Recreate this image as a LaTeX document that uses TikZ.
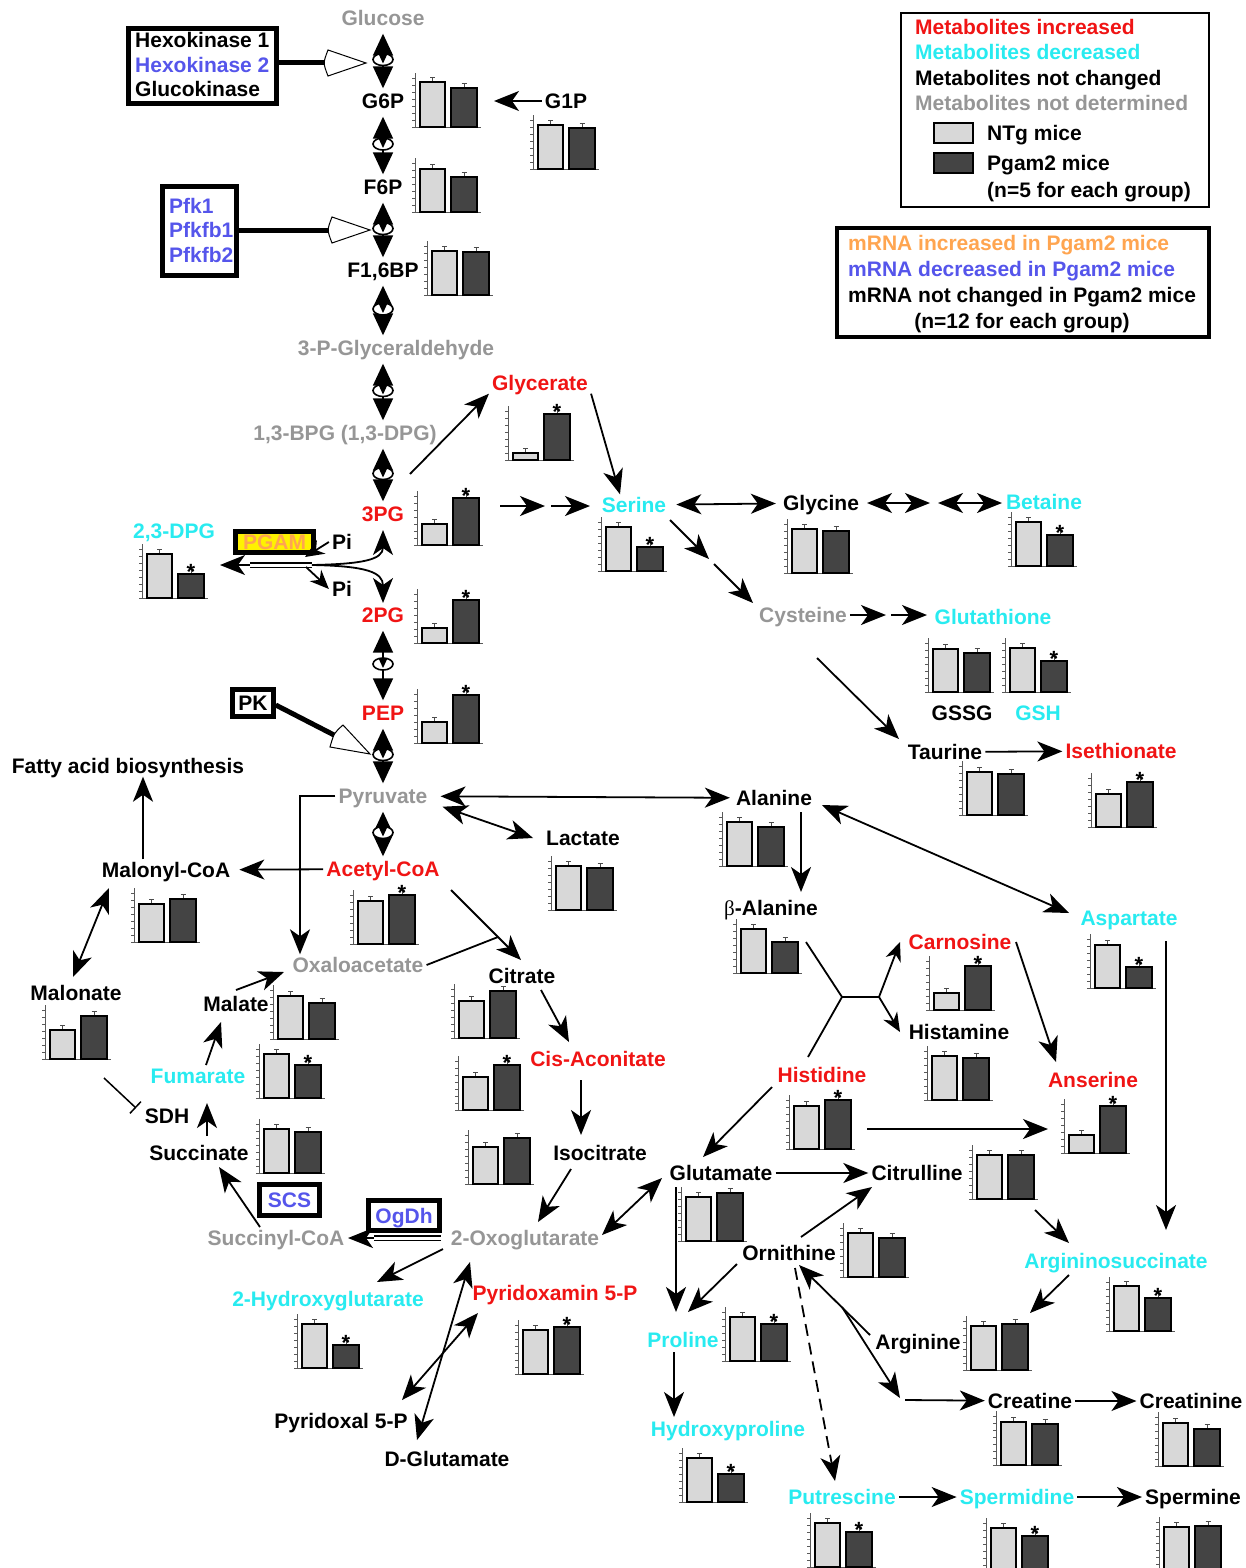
\documentclass[tikz,border=0pt]{standalone}
\usepackage{fontspec}
\setmainfont{Liberation Sans}
\newfontfamily\greekserif{Liberation Serif}
\usetikzlibrary{arrows.meta,shapes.geometric,calc}
\definecolor{mred}{RGB}{240,20,20}
\definecolor{mcyan}{RGB}{40,235,240}
\definecolor{mgray}{RGB}{150,150,150}
\definecolor{mblue}{RGB}{85,85,235}
\definecolor{morange}{RGB}{255,165,80}
\definecolor{barlight}{RGB}{216,216,216}
\definecolor{bardark}{RGB}{68,68,68}
\definecolor{pgamyellow}{RGB}{255,242,0}
\tikzset{
  lbl/.style={font=\fontsize{21}{24}\selectfont\bfseries, text height=15pt, text depth=0pt, inner sep=3pt},
  inc/.style={lbl, text=mred},
  dec/.style={lbl, text=mcyan},
  nch/.style={lbl, text=black},
  nd/.style={lbl, text=mgray},
  starlbl/.style={font=\fontsize{22}{24}\selectfont\bfseries, inner sep=0pt, anchor=base},
  enzbox/.style={lbl, draw, line width=4.5pt, fill=white, inner sep=0pt},
  arr/.style={line width=1.8pt, -{Stealth[length=25pt,width=20pt,inset=7pt]}},
  arrs/.style={line width=1.8pt, -{Stealth[length=19pt,width=16pt,inset=6pt]}},
  darr/.style={line width=1.8pt, {Stealth[length=25pt,width=20pt,inset=7pt]}-{Stealth[length=25pt,width=20pt,inset=7pt]}},
  revarr/.style={line width=1.8pt, {Triangle[length=22pt,width=20pt]}-{Triangle[length=22pt,width=20pt]}, shorten <=5pt, shorten >=2pt},
  revmid/.style={pos=0.5, ellipse, draw, fill=white, line width=1.6pt, minimum width=20pt, minimum height=12pt, inner sep=0pt,
     path picture={\draw[line width=1.6pt] (path picture bounding box.north) -- (path picture bounding box.south);}},
  inh/.style={line width=1.5pt, -{Bar[width=16pt]}},
  plain/.style={line width=1.8pt},
  axisln/.style={line width=0.5pt, black!65},
  barln/.style={line width=1.6pt, draw=black},
  errln/.style={line width=0.6pt, black!70},
  enzline/.style={line width=5pt},
  opentri/.style={line width=1pt, fill=white, draw=black},
}
% chart: name, axis x, baseline y, light height, dark height, star
\newcommand\chart[6]{%
  \begin{scope}[shift={(#2,#3)}]
    \draw[axisln] (0,0) -- (0,-54);
    \foreach \tk in {0,7,...,49} {\draw[axisln] (-3,-\tk) -- (0,-\tk);}
    \draw[axisln] (0,0) -- (66,0);
    \draw[errln] (17.5,-#4) -- (17.5,-#4-5) (15,-#4-5) -- (20,-#4-5);
    \draw[errln] (49,-#5) -- (49,-#5-5) (46.5,-#5-5) -- (51.5,-#5-5);
    \draw[barln, fill=barlight] (5,0) rectangle (30,-#4);
    \draw[barln, fill=bardark] (36,0) rectangle (62,-#5);
    \ifnum#6=1 \node[starlbl] (#1star) at (49,-#5+5) {*};\fi
  \end{scope}}
\begin{document}
\begin{tikzpicture}[x=1pt,y=-1pt]
\useasboundingbox (0,0) rectangle (1246,1568);
\fill[white] (0,0) rectangle (1246,1568);

% ---------------- labels ----------------
\node[nd] (glucose) at (383,18) {Glucose};
\node[nch] (g6p) at (383,101) {G6P};
\node[nch] (g1p) at (566,101) {G1P};
\node[nch] (f6p) at (383,187) {F6P};
\node[nch] (f16bp) at (383,270) {F1,6BP};
\node[nd] (gap) at (396,348) {3-P-Glyceraldehyde};
\node[nd] (bpg) at (345,433) {1,3-BPG (1,3-DPG)};
\node[inc] (pg3) at (383,514) {3PG};
\node[inc] (glycerate) at (540,383) {Glycerate};
\node[dec] (serine) at (634,505) {Serine};
\node[dec] (dpg) at (174,531) {2,3-DPG};
\node[nch] (pia) at (342,542) {Pi};
\node[nch] (pib) at (342,589) {Pi};
\node[inc] (pg2) at (383,615) {2PG};
\node[inc] (pep) at (383,713) {PEP};
\node[nch] (fatty) at (128,766) {Fatty acid biosynthesis};
\node[nd] (pyruvate) at (383,796) {Pyruvate};
\node[nch] (lactate) at (583,838) {Lactate};
\node[nch] (alanine) at (774,798) {Alanine};
\node[nch] (malonyl) at (166,870) {Malonyl-CoA};
\node[inc] (acetyl) at (383,869) {Acetyl-CoA};
\node[nd] (oxalo) at (358,965) {Oxaloacetate};
\node[nch] (citrate) at (522,976) {Citrate};
\node[nch] (malonate) at (76,993) {Malonate};
\node[nch] (malate) at (236,1004) {Malate};
\node[dec] (fumarate) at (198,1076) {Fumarate};
\node[nch] (sdh) at (167,1116) {SDH};
\node[nch] (succinate) at (199,1153) {Succinate};
\node[inc] (cisacon) at (598,1059) {Cis-Aconitate};
\node[nch] (isocitrate) at (600,1153) {Isocitrate};
\node[nd] (succoa) at (276,1238) {Succinyl-CoA};
\node[nd] (oxoglu) at (525,1238) {2-Oxoglutarate};
\node[dec] (hg) at (328,1299) {2-Hydroxyglutarate};
\node[inc] (pyrdxm) at (555,1293) {Pyridoxamin 5-P};
\node[nch] (pyrdxl) at (341,1421) {Pyridoxal 5-P};
\node[nch] (dglu) at (447,1459) {D-Glutamate};
\node[nch] (glycine) at (821,503) {Glycine};
\node[dec] (betaine) at (1044,502) {Betaine};
\node[nd] (cysteine) at (803,615) {Cysteine};
\node[dec] (glutathione) at (993,617) {Glutathione};
\node[nch] (gssg) at (962,713) {GSSG};
\node[dec] (gsh) at (1038,713) {GSH};
\node[nch] (taurine) at (945,752) {Taurine};
\node[inc] (isethionate) at (1121,751) {Isethionate};
\node[nch] (balanine) at (771,908) {{\greekserif\mdseries β}-Alanine};
\node[inc] (carnosine) at (960,942) {Carnosine};
\node[nch] (histamine) at (959,1032) {Histamine};
\node[dec] (aspartate) at (1129,918) {Aspartate};
\node[inc] (anserine) at (1093,1080) {Anserine};
\node[inc] (histidine) at (822,1075) {Histidine};
\node[nch] (glutamate) at (721,1173) {Glutamate};
\node[nch] (citrulline) at (917,1173) {Citrulline};
\node[dec] (argsuc) at (1116,1261) {Argininosuccinate};
\node[nch] (ornithine) at (789,1253) {Ornithine};
\node[dec] (proline) at (683,1340) {Proline};
\node[dec] (hydroxyproline) at (728,1429) {Hydroxyproline};
\node[nch] (arginine) at (918,1342) {Arginine};
\node[nch] (creatine) at (1030,1401) {Creatine};
\node[nch] (creatinine) at (1191,1401) {Creatinine};
\node[dec] (putrescine) at (842,1497) {Putrescine};
\node[dec] (spermidine) at (1017,1497) {Spermidine};
\node[nch] (spermine) at (1193,1497) {Spermine};

% ---------------- charts ----------------
\chart{cg6p}{415}{127}{45}{39}{0}
\chart{cg1p}{533}{169}{44}{41}{0}
\chart{cf6p}{415}{212}{43}{35}{0}
\chart{cf16}{427}{295}{44}{43}{0}
\chart{cglyc}{508}{460}{7}{46}{1}
\chart{cpg3}{417}{545}{21}{47}{1}
\chart{cdpg}{142}{598}{44}{24}{1}
\chart{cpg2}{417}{643}{15}{43}{1}
\chart{cpep}{417}{743}{21}{48}{1}
\chart{cser}{601}{571}{44}{24}{1}
\chart{cgly}{787}{573}{44}{42}{0}
\chart{cbet}{1011}{566}{44}{31}{1}
\chart{cgssg}{928}{692}{43}{39}{0}
\chart{cgsh}{1005}{692}{44}{31}{1}
\chart{ctau}{962}{815}{43}{41}{0}
\chart{cise}{1091}{827}{33}{45}{1}
\chart{cala}{722}{866}{44}{39}{0}
\chart{clac}{551}{910}{44}{42}{0}
\chart{cmcoa}{134}{942}{38}{43}{0}
\chart{cacoa}{353}{944}{43}{49}{1}
\chart{cmalo}{45}{1059}{29}{43}{0}
\chart{cmal}{273}{1039}{43}{36}{0}
\chart{cfum}{259}{1098}{44}{33}{1}
\chart{csuc}{259}{1173}{44}{41}{0}
\chart{ccit}{454}{1038}{37}{47}{0}
\chart{ccis}{458}{1110}{33}{45}{1}
\chart{ciso}{468}{1184}{37}{46}{0}
\chart{chg}{297}{1368}{44}{23}{1}
\chart{cpdxm}{518}{1374}{44}{47}{1}
\chart{cbala}{736}{973}{44}{31}{0}
\chart{ccar}{929}{1010}{17}{44}{1}
\chart{chist}{927}{1100}{44}{42}{0}
\chart{casp}{1090}{988}{43}{21}{1}
\chart{cans}{1064}{1153}{18}{47}{1}
\chart{chis}{789}{1149}{43}{49}{1}
\chart{ccitr}{972}{1199}{44}{44}{0}
\chart{cglu}{681}{1241}{44}{48}{0}
\chart{corn}{843}{1277}{44}{39}{0}
\chart{cpro}{725}{1361}{44}{37}{1}
\chart{chyp}{682}{1502}{44}{28}{1}
\chart{carg}{966}{1370}{44}{46}{0}
\chart{cas}{1109}{1331}{45}{33}{1}
\chart{ccre}{996}{1465}{43}{41}{0}
\chart{ccrn}{1158}{1466}{43}{37}{0}
\chart{cput}{810}{1567}{44}{35}{1}
\chart{cspd}{986}{1572}{44}{36}{1}
\chart{cspm}{1159}{1571}{44}{45}{0}

% ---------------- reversible glycolysis arrows ----------------
\draw[revarr] (glucose) -- (g6p) node[revmid] (r1) {};
\draw[revarr] (g6p) -- (f6p) node[revmid] (r2) {};
\draw[revarr] (f6p) -- (f16bp) node[revmid] (r3) {};
\draw[revarr] (f16bp) -- (f16bp |- gap.north) node[revmid] (r4) {};
\draw[revarr] (f16bp |- gap.south) -- (f16bp |- bpg.north) node[revmid] (r5) {};
\draw[revarr] (pg3 |- bpg.south) -- (pg3) node[revmid] (r6) {};
\draw[revarr] (pg2) -- (pep) node[revmid] (r7) {};
\draw[revarr] (pep) -- (pyruvate) node[revmid] (r8) {};
\draw[revarr] (pyruvate) -- (acetyl) node[revmid] (r9) {};

% ---------------- enzyme boxes ----------------
\node[enzbox, minimum width=148pt, minimum height=75pt] (hexo) at (202.5,66) {};
\node[nch, anchor=west] (hk1) at (132,40) {Hexokinase 1};
\node[lbl, text=mblue, anchor=west] (hk2) at (132,65) {Hexokinase 2};
\node[nch, anchor=west] (gck) at (132,89) {Glucokinase};
\draw[enzline] ([yshift=3pt]hexo.east) -- (328,63);
\draw[opentri] (328,50) -- (366,63) -- (328,76) .. controls (323,63) .. (328,50) -- cycle;

\node[enzbox, minimum width=74pt, minimum height=89pt] (pfk) at (199.5,231) {};
\node[lbl, text=mblue, anchor=west] (pfk1) at (166,206) {Pfk1};
\node[lbl, text=mblue, anchor=west] (pfkfb1) at (166,230) {Pfkfb1};
\node[lbl, text=mblue, anchor=west] (pfkfb2) at (166,255) {Pfkfb2};
\draw[enzline] ([yshift=1pt]pfk.east) -- (332,230);
\draw[opentri] (332,217) -- (370,230) -- (332,243) .. controls (327,230) .. (332,217) -- cycle;

\node[enzbox, minimum width=41pt, minimum height=27pt] (pk) at (253,703) {PK};
\draw[enzline] ([yshift=-2pt]pk.east) -- (336,736);
\draw[opentri] (330,747) -- (370,754) -- (343,725) .. controls (334,733) .. (330,747) -- cycle;

\node[enzbox, fill=pgamyellow, text=morange, minimum width=78pt, minimum height=21pt] (pgam) at (274.5,542) {PGAM};
\node[enzbox, text=mblue, minimum width=60pt, minimum height=31pt] (scs) at (289.5,1200) {SCS};
\node[enzbox, text=mblue, minimum width=71pt, minimum height=30pt] (ogdh) at (404,1215.5) {OgDh};

% ---------------- PGAM mechanism ----------------
\coordinate (pgj) at (312,565);
\coordinate (pgl) at (220,565);
\draw[line width=1.3pt, double=white, double distance=3pt] (pgj) -- (250,565);
\draw[arr] (250,565) -- (pgl);
\draw[arr] (pgj) .. controls (362,564) and (383,560) .. (383,530);
\draw[arr] (pgj) .. controls (366,566) and (383,572) .. (383,603);
\draw[arrs] (pia.west) -- (305,557);
\draw[arrs] (306,567) .. controls (314,574) .. (pib.west);

% ---------------- upper connectors ----------------
\coordinate (g1pto) at (494,101);
\draw[arr] (g1p) -- (g1pto);
\coordinate (pg3out) at (410,474);
\draw[arr] (pg3out) -- (glycerate.south west);
\draw[arr] (glycerate.south east) -- ([xshift=-14pt]serine.north);
\coordinate (ps1) at (500,506); \coordinate (ps2) at (545,506);
\coordinate (ps3) at (551,506); \coordinate (ps4) at (590,506);
\draw[arr] (ps1) -- (ps2);
\draw[arr] (ps3) -- (ps4);
\draw[darr, shorten <=7pt, shorten >=4pt] (serine) -- (glycine);
\coordinate (gb1) at (867,503); \coordinate (gb2) at (930,503);
\coordinate (gb3) at (938,503); \coordinate (gb4) at (1002,503);
\draw[darr] (gb1) -- (gb2);
\draw[darr] (gb3) -- (gb4);
\coordinate (sc1) at (670,520); \coordinate (sc2) at (709,559);
\coordinate (sc3) at (714,564); \coordinate (sc4) at (753,603);
\draw[arr] (sc1) -- (sc2);
\draw[arr] (sc3) -- (sc4);
\coordinate (cg1) at (886,615); \coordinate (cg2) at (891,615); \coordinate (cg3) at (927,615);
\draw[arr] (cysteine) -- (cg1);
\draw[arr] (cg2) -- (cg3);
\coordinate (ct1) at (817,658); \coordinate (ct2) at (899,739);
\draw[arr] (ct1) -- (ct2);
\draw[arr] (taurine) -- (isethionate);

% ---------------- pyruvate region ----------------
\draw[darr, shorten <=10pt, shorten >=3pt] (pyruvate) -- (alanine);
\draw[darr] ([xshift=12pt]pyruvate.south east) -- ([xshift=-10pt]lactate.west);
\draw[arr] (pyruvate.west) -| ([xshift=-58pt]oxalo.north);
\draw[arr, shorten >=6pt] (acetyl) -- (malonyl);
\draw[arr] ([xshift=-23pt]malonyl.north) -- ([xshift=-23pt]malonyl.north |- fatty.south);
\coordinate (mm1) at (109,888); \coordinate (mm2) at (73,977);
\draw[darr] (mm1) -- (mm2);
\coordinate (ms1) at (104,1078); \coordinate (ms2) at (136,1108);
\draw[inh] (ms1) -- (ms2);
\coordinate (sf1) at (207,1136); \coordinate (sf2) at (207,1103);
\draw[arr] (sf1) -- (sf2);
\coordinate (fm1) at (206,1065); \coordinate (fm2) at (221,1022);
\draw[arr] (fm1) -- (fm2);
\coordinate (mo1) at (236,990); \coordinate (mo2) at (284,972);
\draw[arr] (mo1) -- (mo2);
\coordinate (ocj) at (498,937);
\draw[plain] (oxalo.east) -- (ocj);
\coordinate (ac1) at (451,890); \coordinate (ac2) at (521,960);
\draw[arr] (ac1) -- (ac2);
\coordinate (cc1) at (541,990); \coordinate (cc2) at (569,1042);
\draw[arr] (cc1) -- (cc2);
\coordinate (ci1) at (581,1080); \coordinate (ci2) at (581,1135);
\draw[arr] (ci1) -- (ci2);
\coordinate (io1) at (571,1169); \coordinate (io2) at (538,1222);
\draw[arr] (io1) -- (io2);
\coordinate (os1) at (441,1238); \coordinate (os2) at (374,1238); \coordinate (os3) at (348,1238);
\draw[line width=1.3pt, double=white, double distance=3pt] (os1) -- (os2);
\draw[arr] (os2) -- (os3);
\coordinate (ss1) at (260,1227); \coordinate (ss2) at (219,1167);
\draw[arr] (ss1) -- (ss2);
\coordinate (og1) at (602,1235); \coordinate (og2) at (662,1178);
\draw[darr] (og1) -- (og2);
\coordinate (oh1) at (443,1249); \coordinate (oh2) at (377,1282);
\draw[arr] (oh1) -- (oh2);
\coordinate (dg1) at (417,1440); \coordinate (dg2) at (470,1262);
\draw[darr] (dg1) -- (dg2);
\coordinate (px1) at (402,1400); \coordinate (px2) at (478,1313);
\draw[darr] (px1) -- (px2);

% ---------------- amino acids region ----------------
\coordinate (ab1) at (801,812); \coordinate (ab2) at (801,892);
\draw[arr] (ab1) -- (ab2);
\coordinate (aa1) at (822,805); \coordinate (aa2) at (1069,913);
\draw[darr] (aa1) -- (aa2);
\coordinate (yb) at (806,942); \coordinate (yh) at (808,1057);
\coordinate (yj) at (842,997); \coordinate (yk) at (879,997);
\coordinate (yc) at (900,942); \coordinate (ym) at (900,1032);
\draw[plain] (yb) -- (yj) -- (yh);
\draw[plain] (yj) -- (yk);
\draw[arrs] (yk) -- (yc);
\draw[arrs] (yk) -- (ym);
\coordinate (ca1) at (1016,942); \coordinate (ca2) at (1056,1062);
\draw[arr] (ca1) -- (ca2);
\coordinate (as1) at (1166,941); \coordinate (as2) at (1166,1230);
\draw[arr] (as1) -- (as2);
\coordinate (ha1) at (867,1129); \coordinate (ha2) at (1048,1129);
\draw[arr] (ha1) -- (ha2);
\coordinate (hg1) at (772,1087); \coordinate (hg2) at (703,1157);
\draw[arr] (hg1) -- (hg2);
\draw[arr] (glutamate) -- (citrulline);
\coordinate (cr1) at (1035,1210); \coordinate (cr2) at (1069,1243);
\draw[arr] (cr1) -- (cr2);
\coordinate (gp1) at (676,1187); \coordinate (gp2) at (676,1312);
\draw[arr] (gp1) -- (gp2);
\coordinate (oc1) at (801,1237); \coordinate (oc2) at (872,1187);
\draw[arr] (oc1) -- (oc2);
\coordinate (op1) at (737,1264); \coordinate (op2) at (688,1312);
\draw[arr] (op1) -- (op2);
\coordinate (pu1) at (795,1268); \coordinate (pu2) at (835,1481);
\draw[arr, dash pattern=on 12pt off 7pt] (pu1) -- (pu2);
\coordinate (ao1) at (870,1335); \coordinate (ao2) at (799,1265);
\draw[arr] (ao1) -- (ao2);
\coordinate (br1) at (842,1307); \coordinate (br2) at (900,1398);
\draw[arr] (br1) -- (br2);
\coordinate (ce1) at (905,1400);
\draw[arr] (ce1) -- (creatine);
\draw[arr] (creatine) -- (creatinine);
\coordinate (ar1) at (1069,1275); \coordinate (ar2) at (1030,1313);
\draw[arr] (ar1) -- (ar2);
\draw[arr] (putrescine) -- (spermidine);
\draw[arr] (spermidine) -- (spermine);
\coordinate (ph1) at (674,1352); \coordinate (ph2) at (674,1417);
\draw[arr] (ph1) -- (ph2);

% ---------------- legends ----------------
\draw[line width=1.2pt] (901,13) rectangle (1209,207);
\node[inc, anchor=west] (lg1) at (912,27) {Metabolites increased};
\node[dec, anchor=west] (lg2) at (912,52) {Metabolites decreased};
\node[nch, anchor=west] (lg3) at (912,78) {Metabolites not changed};
\node[nd, anchor=west] (lg4) at (912,103) {Metabolites not determined};
\draw[barln, fill=barlight] (934,123) rectangle (973,143);
\draw[barln, fill=bardark] (934,153) rectangle (973,173);
\node[nch, anchor=west] (lg5) at (984,133) {NTg mice};
\node[nch, anchor=west] (lg6) at (984,163) {Pgam2 mice};
\node[nch, anchor=west] (lg7) at (984,190) {(n=5 for each group)};

\draw[line width=4.5pt] (837,228) rectangle (1209,337);
\node[lbl, text=morange, anchor=west] (lg8) at (845,243) {mRNA increased in Pgam2 mice};
\node[lbl, text=mblue, anchor=west] (lg9) at (845,269) {mRNA decreased in Pgam2 mice};
\node[nch, anchor=west] (lg10) at (845,295) {mRNA not changed in Pgam2 mice};
\node[nch] (lg11) at (1022,321) {(n=12 for each group)};
\end{tikzpicture}
\end{document}
